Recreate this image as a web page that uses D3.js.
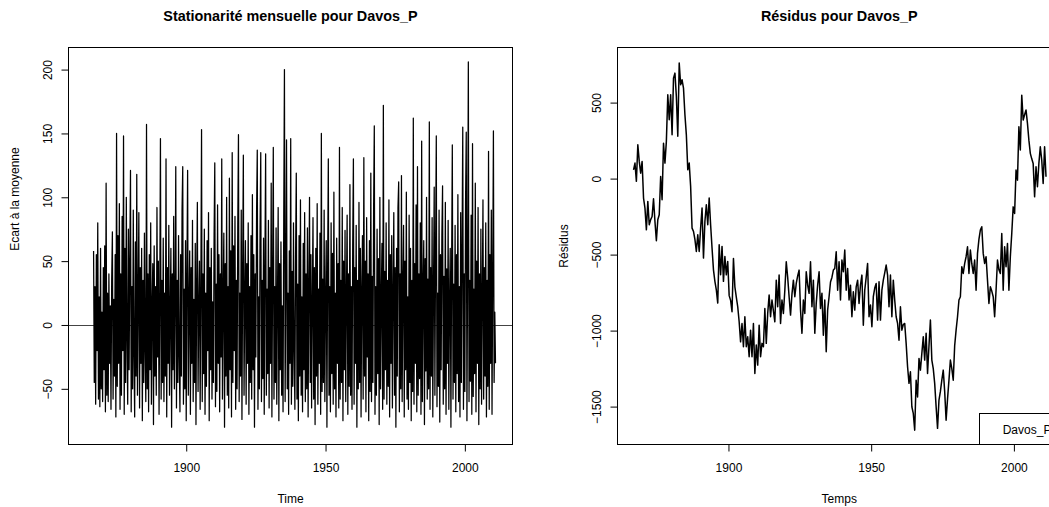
<!DOCTYPE html>
<html>
<head>
<meta charset="utf-8">
<script src="https://cdn.jsdelivr.net/npm/d3@7"></script>
<style>
  body { margin: 0; background: #fff; }
  svg { display: block; background: #fff; }
  text { font-family: "Liberation Sans", Arial, Helvetica, sans-serif; font-size: 12px; fill: #000; }
</style>
</head>
<body>
<div id="chart"></div>
<script>
// monthly deviations (read at ~4 points per year)
var ecartStart = 1866.75;
var ecartStep = 0.25;
var ecartValues = [
  58, -45, 30, -62, 55, -20, 80, -58, 22, -64, 60, -50, 10, -60, 45, -35, 62, -68, 111, -55,
  25, -60, 40, -30, 15, -66, 35, 73, -58, 20, -40, 55, -72, 150, -48, 70, -30, 95, -66, 40,
  -55, 85, -20, 148, -70, 60, -45, 100, -10, -62, 75, -35, 50, 121, -68, 30, -50, 90, -25, -72,
  65, -40, 118, -55, 20, 88, -65, 45, -30, 60, -75, 35, -45, 72, -20, -60, 157, -50, 40, -68,
  55, -35, 80, -62, 15, 48, -78, 62, -40, 30, -55, 92, -25, 50, -70, 20, 146, -58, 35, -45,
  68, -60, 25, -40, 130, -72, 45, -30, 78, -55, 10, 60, -80, 40, -35, 85, -50, 20, 124, -65,
  35, -45, 70, -25, -68, 55, -40, 90, 124, -62, 28, -50, 66, -75, 40, 121, -55, 15, 58, -70,
  45, -30, 82, -60, 20, -45, 64, -78, 35, 96, -52, 12, 50, -66, 30, 153, -60, 40, -38, 75,
  -70, 25, -48, 66, -20, 88, -75, 45, -35, 60, -58, 18, -45, 70, 127, -64, 32, -52, 94, -30,
  55, -68, 40, -25, 130, -58, 20, 72, -80, 48, -40, 100, -55, 30, -65, 115, -35, 58, -72, 135,
  -45, 62, -20, 85, -66, 35, -50, 78, 149, -60, 25, -40, 90, -74, 42, 133, -55, 18, 66, -62,
  48, -30, 80, -70, 30, -45, 70, -58, 102, -35, 55, -80, 40, -25, 88, 137, -66, 22, -50, 75,
  135, -60, 35, -42, 68, -70, 50, 134, -55, 28, -38, 82, -65, 45, -30, 111, -72, 40, 139, -58,
  30, -45, 76, -62, 20, 92, -75, 48, -35, 65, -55, 15, -68, 84, 200, -60, 38, 145, -50, 25,
  -70, 58, -30, 146, -62, 42, -48, 80, -20, -66, 55, 119, -58, 32, -75, 70, -40, 98, -55, 22,
  -68, 64, -35, 88, -60, 40, -50, 76, -72, 30, 100, -45, 55, -65, 18, 84, -58, 45, -78, 60,
  -40, 95, -62, 28, -30, 72, -70, 150, -52, 36, -45, 90, -60, 20, 66, -80, 45, 130, -55, 30,
  -68, 80, -38, 56, -62, 104, -50, 25, -72, 68, -30, 48, -65, 139, -58, 35, -45, 92, -75, 50,
  -35, 74, -60, 22, 86, -70, 40, -48, 110, -55, 30, -66, 62, 130, -62, 45, -30, 78, -80, 35,
  -50, 96, -45, 60, -72, 28, 70, -58, 131, -40, 50, -68, 84, -25, 40, -75, 66, -52, 119, -60,
  38, -45, 90, 156, -70, 30, -55, 75, -38, 52, -78, 100, -50, 20, 64, -66, 172, -58, 42, -35,
  80, -62, 35, -48, 98, -72, 55, -30, 70, -65, 25, 88, -55, 45, -80, 60, -40, 92, 112, -68,
  40, -50, 117, -60, 30, 78, -72, 50, -35, 104, -58, 22, -66, 86, -45, 60, -75, 35, -52, 162,
  -62, 48, -30, 94, -68, 124, -55, 40, -42, 80, -70, 144, -60, 28, 66, -78, 52, -36, 100, -58,
  36, -50, 159, -66, 45, -40, 84, -72, 30, 108, -55, 62, 148, -64, 25, -48, 90, -76, 55, -35,
  70, 109, -62, 38, -50, 96, -70, 44, -30, 82, -66, 20, 60, -80, 48, 141, -58, 32, -45, 78,
  -68, 55, -38, 102, -60, 30, -72, 88, -45, 62, 155, -66, 40, -52, 96, 151, -75, 48, 206, -60,
  35, -44, 86, -70, 142, -56, 28, -38, 111, -68, 50, -30, 92, -78, 40, -50, 75, -62, 22, 98,
  -58, 45, -40, 80, -72, 35, -48, 136, -66, 55, -30, 90, -70, 40, 152, -45, 10, -30
];

// residuals (read at ~2 points per year)
var residStart = 1866.75;
var residStep = 0.5;
var residValues = [
  58, 102, -18, 222, 113, 36, 113, -128, -194, -337, -150, -304, -270, -249, -133, -282, -409, -271, -238, 14,
  -139, 233, 102, 245, 551, 387, 551, 288, 661, 694, 541, 278, 760, 617, 650, 595, 420, 288, 58, 102,
  -51, -326, -347, -400, -479, -370, -479, -326, -194, -523, -282, -172, -304, -128, -304, -457, -600, -676, -732, -819,
  -435, -633, -446, -676, -512, -633, -545, -770, -800, -876, -525, -712, -780, -843, -942, -1074, -953, -1106, -909, -1106,
  -1041, -1172, -997, -1172, -953, -1282, -1095, -1227, -964, -1172, -1084, -1106, -854, -1084, -887, -766, -909, -799, -870, -942,
  -668, -843, -635, -953, -799, -887, -734, -547, -650, -777, -898, -760, -668, -777, -690, -640, -602, -865, -1018, -799,
  -887, -613, -700, -755, -547, -843, -668, -1018, -821, -700, -613, -854, -755, -1030, -799, -1139, -865, -777, -680, -650,
  -602, -591, -482, -734, -547, -799, -536, -613, -470, -734, -591, -799, -701, -909, -745, -865, -712, -668, -821, -700,
  -635, -964, -734, -650, -558, -909, -832, -975, -777, -720, -690, -931, -679, -931, -734, -668, -620, -569, -635, -843,
  -635, -909, -668, -800, -909, -953, -1063, -843, -997, -960, -953, -1084, -1238, -1347, -1271, -1501, -1545, -1655, -1326, -1436,
  -1183, -1260, -1150, -1041, -1194, -1018, -1282, -1100, -931, -1194, -1250, -1347, -1500, -1643, -1457, -1400, -1326, -1260, -1400, -1589,
  -1450, -1326, -1194, -1250, -1326, -1100, -997, -909, -799, -777, -580, -624, -560, -514, -449, -624, -470, -560, -624, -536,
  -734, -492, -400, -339, -317, -492, -558, -514, -668, -821, -712, -740, -777, -909, -734, -536, -600, -624, -361, -734,
  -449, -580, -427, -734, -514, -361, -186, -229, 56, -10, 341, 188, 549, 385, 420, 451, 363, 253, 166, 130,
  100, -120, 78, -54, 100, 209, 122, -32, 209, 12
];

var yearTicks = [1900, 1950, 2000];
var ecartTicks = [-50, 0, 50, 100, 150, 200];
var residTicks = [-1500, -1000, -500, 0, 500];
var legendLabels = ["Davos_P"];

var width = 1049;
var height = 507;
var plotTop = 47.5;
var plotBottom = 444.5;
var tickLen = 7;

var svg = d3.select("#chart").append("svg")
  .attr("width", width)
  .attr("height", height);

var panels = [
  {
    title: "Stationarité mensuelle pour Davos_P", xlab: "Time", ylab: "Ecart à la moyenne", ylabY: 199,
    left: 68.5, right: 512.5, xDomain: [1857.75, 2017.1], yDomain: [-93.6, 217.3],
    start: ecartStart, step: ecartStep, values: ecartValues, yTicks: ecartTicks, hline: 0,
    lineWidth: 1.25
  },
  {
    title: "Résidus pour Davos_P", xlab: "Temps", ylab: "Résidus", ylabY: 246,
    left: 617.5, right: 1061, xDomain: [1861.13, 2016.5], yDomain: [-1749.3, 862.5],
    start: residStart, step: residStep, values: residValues, yTicks: residTicks, legend: legendLabels,
    lineWidth: 1.5
  }
];

panels.forEach(function(p) {
  var x = d3.scaleLinear().domain(p.xDomain).range([p.left, p.right]);
  var y = d3.scaleLinear().domain(p.yDomain).range([plotBottom, plotTop]);
  var g = svg.append("g");

  var line = d3.line()
    .x((d, i) => x(p.start + i * p.step))
    .y(d => y(d));

  if (p.hline !== undefined) {
    g.append("line")
      .attr("x1", p.left).attr("x2", p.right)
      .attr("y1", Math.round(y(p.hline)) + 0.5).attr("y2", Math.round(y(p.hline)) + 0.5)
      .attr("stroke", "#444")
      .attr("stroke-width", 1);
  }

  g.append("path")
    .datum(p.values)
    .attr("d", line)
    .attr("fill", "none")
    .attr("stroke", "#000")
    .attr("stroke-width", p.lineWidth)
    .attr("stroke-linejoin", "round");

  g.append("rect")
    .attr("x", p.left).attr("y", plotTop)
    .attr("width", p.right - p.left).attr("height", plotBottom - plotTop)
    .attr("fill", "none")
    .attr("stroke", "#000");

  var gx = g.append("g")
    .attr("transform", `translate(0, ${plotBottom})`)
    .call(d3.axisBottom(x).tickValues(yearTicks).tickSize(tickLen).tickSizeOuter(0).tickFormat(d3.format("d")));
  gx.select(".domain").remove();
  gx.selectAll(".tick line").attr("stroke", "#000");
  gx.selectAll(".tick text").attr("y", 23.5).attr("dy", "0.35em");

  var gy = g.append("g")
    .attr("transform", `translate(${p.left}, 0)`)
    .call(d3.axisLeft(y).tickValues(p.yTicks).tickSize(tickLen).tickSizeOuter(0).tickFormat(d3.format("d")));
  gy.select(".domain").remove();
  gy.selectAll(".tick line").attr("stroke", "#000");
  gy.selectAll(".tick text")
    .attr("transform", "rotate(-90)")
    .attr("text-anchor", "middle")
    .attr("x", 0)
    .attr("y", -21)
    .attr("dy", "0.35em");

  var cx = (p.left + p.right) / 2;

  g.append("text")
    .attr("x", cx).attr("y", 16).attr("dy", "0.35em")
    .attr("text-anchor", "middle")
    .style("font-size", "14.4px")
    .style("font-weight", "bold")
    .text(p.title);

  g.append("text")
    .attr("x", cx).attr("y", 499).attr("dy", "0.35em")
    .attr("text-anchor", "middle")
    .text(p.xlab);

  g.append("text")
    .attr("transform", `translate(${p.left - 54}, ${p.ylabY}) rotate(-90)`)
    .attr("dy", "0.35em")
    .attr("text-anchor", "middle")
    .text(p.ylab);

  if (p.legend) {
    var lg = g.append("g").attr("class", "legend");
    lg.append("rect")
      .attr("x", 979.5).attr("y", 413.5)
      .attr("width", p.right - 979.5).attr("height", plotBottom - 413.5)
      .attr("fill", "#fff")
      .attr("stroke", "#000");
    lg.selectAll("text.leg")
      .data(p.legend).enter()
      .append("text")
      .attr("class", "leg")
      .attr("x", 1002.7)
      .attr("y", (d, i) => 429.3 + i * 14)
      .attr("dy", "0.35em")
      .text(d => d);
  }
});
</script>
</body>
</html>
